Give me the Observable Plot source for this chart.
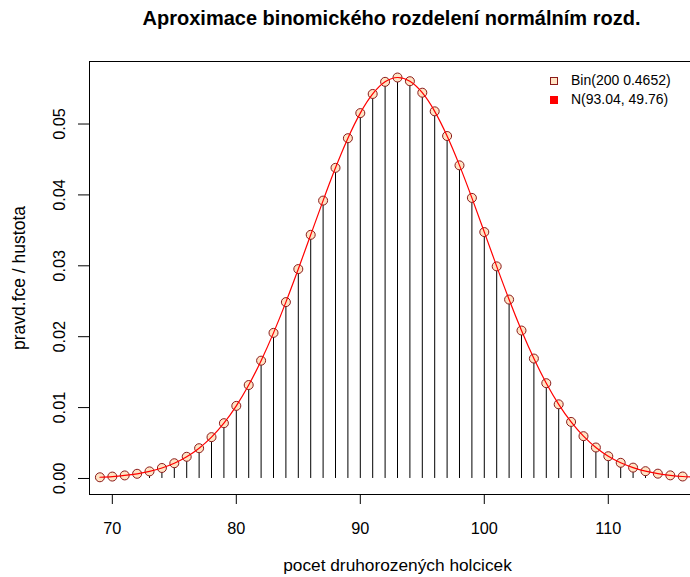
<!DOCTYPE html>
<html>
<head>
<meta charset="utf-8">
<script src="https://cdn.jsdelivr.net/npm/d3@7"></script>
<script src="https://cdn.jsdelivr.net/npm/@observablehq/plot@0.6"></script>
<style>
  html, body { margin: 0; padding: 0; overflow: hidden; background: #fff; }
  #wrap { position: relative; width: 690px; height: 577px; overflow: hidden; }
  #chart svg { max-width: none !important; width: 706px; height: 577px; display: block; }
  #legend { position: absolute; left: 550px; top: 71px; font-family: "Liberation Sans", Arial, sans-serif; font-size: 14px; line-height: 19px; }
  #legend .row { display: flex; align-items: center; }
  #legend .sw { width: 8px; height: 8px; margin-right: 13px; box-sizing: border-box; }
</style>
</head>
<body>
<div id="wrap"><div id="chart"></div>
<div id="legend">
  <div class="row"><div class="sw" style="background:#FFE4C4;border:1px solid #8B1A1A"></div><span id="l1"></span></div>
  <div class="row"><div class="sw" style="background:#FF0000"></div><span id="l2"></span></div>
</div>
</div>
<script>
// counts k
const ks = [69,70,71,72,73,74,75,76,77,78,79,80,81,82,83,84,85,86,87,88,89,90,91,92,93,
            94,95,96,97,98,99,100,101,102,103,104,105,106,107,108,109,110,111,112,113,114,115,116,117];
// binomial probabilities
const binom = [0.00017,0.00027,0.00043,0.00066,0.00100,0.00148,0.00215,0.00306,0.00427,0.00583,
               0.00780,0.01024,0.01318,0.01662,0.02054,0.02488,0.02954,0.03437,0.03920,0.04382,
               0.04800,0.05154,0.05424,0.05595,0.05656,0.05604,0.05442,0.05179,0.04831,0.04417,
               0.03958,0.03476,0.02992,0.02524,0.02087,0.01692,0.01344,0.01046,0.00798,0.00597,
               0.00437,0.00314,0.00221,0.00153,0.00103,0.00068,0.00044,0.00028,0.00018];
// normal density values along the curve
const normal = [0.00017,0.00027,0.00043,0.00066,0.00100,0.00148,0.00215,0.00306,0.00427,0.00583,
               0.00780,0.01024,0.01318,0.01662,0.02054,0.02488,0.02954,0.03437,0.03920,0.04382,
               0.04800,0.05154,0.05424,0.05595,0.05656,0.05604,0.05442,0.05179,0.04831,0.04417,
               0.03958,0.03476,0.02992,0.02524,0.02087,0.01692,0.01344,0.01046,0.00798,0.00597,
               0.00437,0.00314,0.00221,0.00153,0.00103,0.00068,0.00044,0.00028,0.00018];
const xTicks = [70, 80, 90, 100, 110];
const yTicks = [0, 0.01, 0.02, 0.03, 0.04, 0.05];
const yTickLabels = ["0.00","0.01","0.02","0.03","0.04","0.05"];
const title = "Aproximace binomického rozdelení normálním rozd.";
const xLabel = "pocet druhorozených holcicek";
const yLabel = "pravd.fce / hustota";
const legendLabels = ["Bin(200 0.4652)", "N(93.04, 49.76)"];

document.getElementById("l1").textContent = legendLabels[0];
document.getElementById("l2").textContent = legendLabels[1];

const pts = ks.map((k, i) => ({k, p: binom[i]}));
const curve = ks.map((k, i) => ({k, d: normal[i]}));
const font = "Liberation Sans, Arial, sans-serif";

const chart = Plot.plot({
  width: 706, height: 577,
  marginLeft: 89, marginRight: 1, marginTop: 61, marginBottom: 83,
  style: {fontFamily: font, fontSize: "16px", background: "#fff", color: "#000", maxWidth: "none"},
  x: {domain: [68.16, 117.84], axis: null},
  y: {domain: [-0.00226, 0.05882], axis: null},
  marks: [
    Plot.frame({stroke: "#000", strokeWidth: 1}),
    Plot.axisX({ticks: xTicks, tickSize: 10, tickPadding: 18, tickFormat: d => String(d), label: null, fontSize: 16.3, anchor: "bottom"}),
    Plot.axisY({ticks: yTicks, tickSize: 11, label: null, tickFormat: () => "", anchor: "left"}),
    Plot.text(yTicks, {y: d => d, text: (d, i) => yTickLabels[i], frameAnchor: "left", textAnchor: "middle", lineAnchor: "middle", dx: -30, rotate: -90, fontSize: 16.3}),
    Plot.text([yLabel], {frameAnchor: "left", textAnchor: "middle", lineAnchor: "middle", dx: -70, rotate: -90, fontSize: 17.5}),
    Plot.text([xLabel], {frameAnchor: "bottom", textAnchor: "middle", lineAnchor: "middle", dy: 71, fontSize: 17.3}),
    Plot.text([title], {frameAnchor: "top", textAnchor: "middle", lineAnchor: "middle", dy: -43, dx: -6, fontSize: 20, fontWeight: "bold"}),
    Plot.ruleX(pts, {x: "k", y1: 0, y2: "p", stroke: "#000", strokeWidth: 1}),
    Plot.dot(pts, {x: "k", y: "p", r: 4.5, fill: "#FFE4C4", stroke: "#8B1A1A", strokeWidth: 1}),
    Plot.line(curve, {x: "k", y: "d", stroke: "#FF0000", strokeWidth: 1.2, curve: "natural"})
  ]
});
document.getElementById("chart").appendChild(chart);
</script>
</body>
</html>
